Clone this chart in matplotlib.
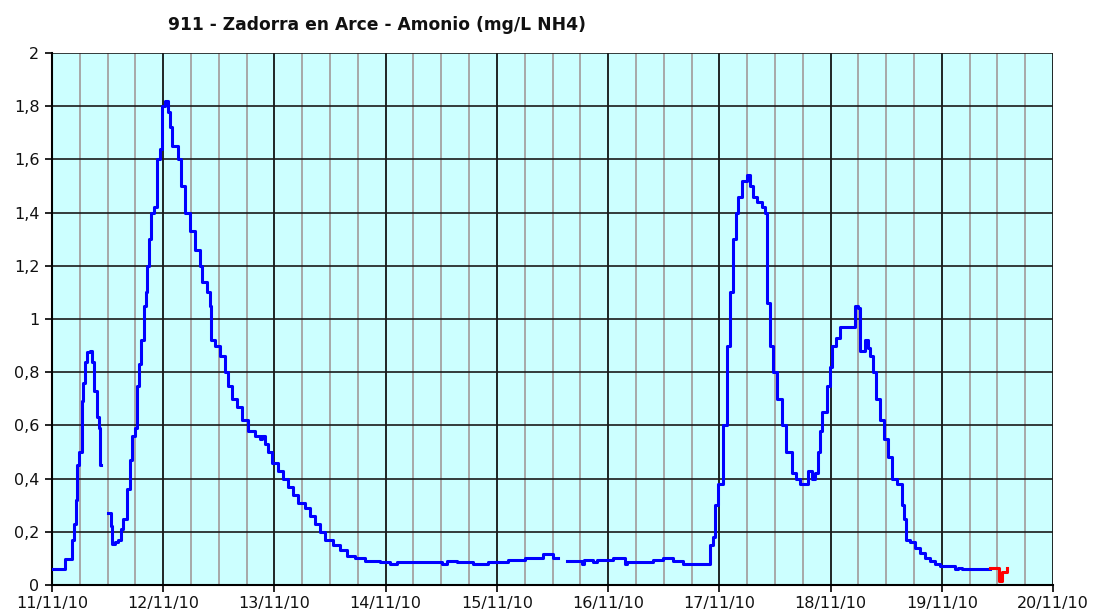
import numpy as np
import matplotlib
matplotlib.use("Agg")
import matplotlib.pyplot as plt
from matplotlib.ticker import MultipleLocator, FuncFormatter

# Data: hours from 11/11/10 00:00, ammonium (mg/L NH4); NaN marks gaps
hours_blue = [0.0, 2.4, 2.8, 4.3, 4.7, 5.2, 5.4, 5.8, 6.5, 6.7, 7.1, 7.6, 8.2, 8.6, 9.1, 9.7, 10.1, 10.4, 10.6,
              12.1, 12.7, 12.9, 13.6, 14.2, 14.9, 15.3, 16.2, 16.8, 17.3, 17.9, 18.3, 18.8, 19.2, 19.8, 20.3,
              20.5, 20.9, 21.4, 22.0, 22.7, 23.3, 23.7, 24.4, 25.0, 25.5, 25.9, 27.2, 27.8, 28.7, 29.8, 30.9,
              31.9, 32.4, 33.4, 34.1, 34.3, 35.2, 36.2, 37.3, 38.0, 38.8, 39.9, 41.0, 42.3, 43.8, 44.9, 45.3,
              46.0, 46.6, 47.5, 48.8, 49.8, 50.9, 52.0, 53.1, 54.6, 55.7, 56.7, 57.8, 58.9, 60.6, 62.1, 63.6,
              65.4, 67.5, 70.8, 72.9, 74.4, 84.1, 85.2, 87.4, 90.8, 94.1, 98.4, 102.0, 105.9, 108.1, 109.2,
              111.1, 114.3, 114.8, 116.7, 117.6, 121.0, 123.6, 124.0, 125.3, 129.7, 131.8, 134.0, 136.1,
              139.8, 140.9, 142.0, 142.6, 143.0, 143.7, 144.8, 145.6, 146.3, 146.9, 147.6, 148.0, 148.9,
              149.9, 150.6, 151.2, 152.1, 153.2, 153.8, 154.2, 154.9, 155.5, 156.4, 157.5, 158.3, 159.6,
              160.5, 161.4, 162.4, 163.1, 164.0, 164.6, 165.3, 165.7, 166.1, 167.2, 167.8, 168.3, 169.1,
              170.0, 172.6, 173.2, 173.9, 174.3, 175.4, 176.0, 176.5, 177.1, 177.8, 178.6, 179.5, 180.4,
              181.2, 182.3, 183.4, 183.8, 184.2, 185.1, 186.2, 187.3, 188.3, 189.4, 190.5, 191.6, 193.7,
              194.8, 195.5, 196.3, 202.4]
values_blue = [0.06, 0.06, 0.097, 0.17, 0.23, 0.32, 0.45, 0.50, 0.69, 0.76, 0.84, 0.876, 0.88, 0.84, 0.73, 0.63, 0.59, 0.45, np.nan,
               0.27, 0.22, 0.154, 0.16, 0.17, 0.21, 0.25, 0.36, 0.47, 0.56, 0.59, 0.75, 0.83, 0.92, 1.05, 1.1,
               1.2, 1.3, 1.4, 1.42, 1.6, 1.64, 1.8, 1.82, 1.78, 1.72, 1.65, 1.6, 1.5, 1.4, 1.33, 1.26,
               1.2, 1.14, 1.1, 1.05, 0.92, 0.9, 0.86, 0.8, 0.75, 0.7, 0.67, 0.62, 0.58, 0.56, 0.55, 0.56,
               0.53, 0.5, 0.46, 0.43, 0.4, 0.37, 0.34, 0.31, 0.29, 0.26, 0.23, 0.2, 0.17, 0.15, 0.13, 0.11,
               0.1, 0.09, 0.085, 0.078, 0.085, 0.078, 0.09, 0.085, 0.078, 0.085, 0.095, 0.1, 0.115, 0.1, np.nan,
               0.092, 0.078, 0.095, 0.085, 0.095, 0.1, 0.078, 0.085, 0.085, 0.095, 0.1, 0.09, 0.078,
               0.078, 0.08, 0.15, 0.18, 0.3, 0.38, 0.6, 0.9, 1.1, 1.3, 1.4, 1.46, 1.52,
               1.54, 1.5, 1.46, 1.44, 1.42, 1.4, 1.06, 0.9, 0.8, 0.7, 0.6, 0.5, 0.42,
               0.4, 0.38, 0.38, 0.43, 0.4, 0.42, 0.5, 0.58, 0.65, 0.75, 0.82, 0.9, 0.93,
               0.97, 0.97, 1.05, 1.04, 0.88, 0.92, 0.89, 0.86, 0.8, 0.7, 0.62, 0.55, 0.48,
               0.4, 0.38, 0.3, 0.25, 0.17, 0.16, 0.14, 0.12, 0.1, 0.09, 0.08, 0.07, 0.07,
               0.06, 0.065, 0.06, 0.06]
hours_red = [202.4, 203.9, 204.3, 204.7, 205.1, 206.0]
values_red = [0.064, 0.064, 0.015, 0.015, 0.05, 0.064]

day_labels = ["11/11/10", "12/11/10", "13/11/10", "14/11/10", "15/11/10",
              "16/11/10", "17/11/10", "18/11/10", "19/11/10", "20/11/10"]
title = "911 - Zadorra en Arce - Amonio (mg/L NH4)"

fig = plt.figure(figsize=(10.94, 6.13), dpi=100)
ax = fig.add_axes([52/1094, 28/613, 1001/1094, 532/613])
ax.set_facecolor("#CCFFFF")

xb = np.array(hours_blue) / 24.0
xr = np.array(hours_red) / 24.0
ax.plot(xb, values_blue, color="#0000FF", lw=2.2, drawstyle="steps-post", zorder=5)
ax.plot(xr, values_red, color="#FF0000", lw=2.2, drawstyle="steps-post", zorder=5)

ax.set_xlim(0, 9)
ax.set_ylim(0, 2)
ax.set_xticks(np.arange(0, 10))
ax.set_xticklabels(day_labels)
ax.xaxis.set_minor_locator(MultipleLocator(0.25))
ax.yaxis.set_major_locator(MultipleLocator(0.2))
ax.yaxis.set_major_formatter(FuncFormatter(lambda v, p: ("%g" % round(v, 1)).replace(".", ",")))

ax.grid(which="minor", axis="x", color="#A8A8A8", lw=1.4, zorder=1)
ax.grid(which="major", axis="x", color="#000000", lw=1.2, zorder=2)
ax.grid(which="major", axis="y", color="#1a1a1a", lw=1.2, zorder=2)
ax.set_axisbelow(True)

for s in ["top", "right"]:
    ax.spines[s].set_visible(False)
for s in ["left", "bottom"]:
    ax.spines[s].set_color("#000000")
    ax.spines[s].set_linewidth(1.5)

ax.tick_params(axis="both", which="major", direction="out", length=5, width=1.2,
               labelsize=11.5, colors="#000000")
ax.tick_params(axis="x", which="minor", length=0)
ax.tick_params(axis="x", pad=3)
ax.tick_params(axis="y", pad=4)
for lab in ax.get_xticklabels() + ax.get_yticklabels():
    lab.set_color("#111111")

fig.text(377/1094, 1 - 25/613, title, ha="center", va="center", fontsize=12.3,
         fontweight="bold", color="#111111")

fig.savefig("out.png", dpi=100)
